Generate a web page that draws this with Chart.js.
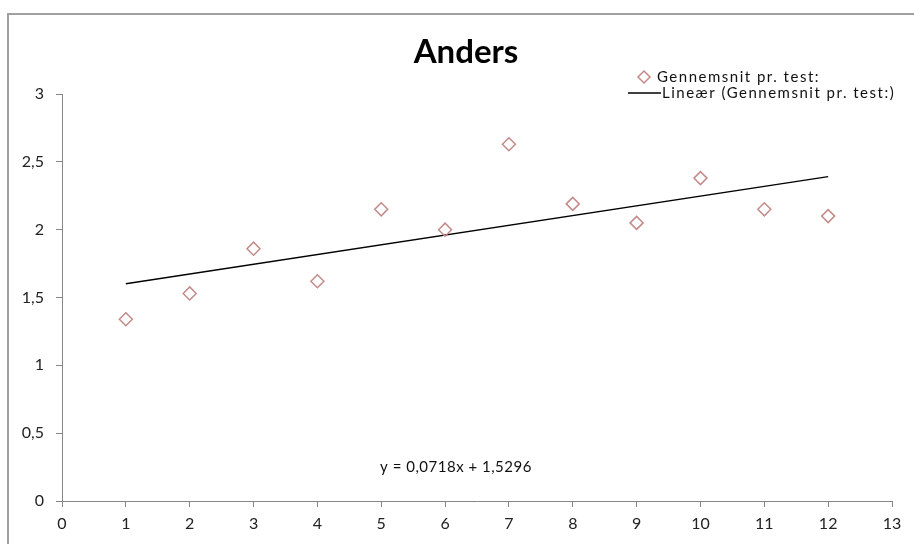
<!DOCTYPE html>
<html>
<head>
<meta charset="utf-8">
<script src="https://cdn.jsdelivr.net/npm/chart.js@4/dist/chart.umd.min.js"></script>
<style>
    html, body { margin: 0; padding: 0; background: #fff; }
    #wrap { width: 914px; height: 544px; position: relative; }
</style>
</head>
<body>
<div id="wrap"><canvas id="andersChart" width="914" height="544"></canvas></div>
<script>
// test number on x, average score on y
const testNo    = [1, 2, 3, 4, 5, 6, 7, 8, 9, 10, 11, 12];
const avgScore  = [1.34, 1.53, 1.86, 1.62, 2.15, 2.0, 2.63, 2.19, 2.05, 2.38, 2.15, 2.1];

// linear trendline, ends at first and last test
const trendX = [1, 12];
const trendY = [1.6014, 2.3912];

const xTicks = [0, 1, 2, 3, 4, 5, 6, 7, 8, 9, 10, 11, 12, 13];
const yTicks = [0, 0.5, 1, 1.5, 2, 2.5, 3];

const titleText    = "Anders";
const seriesLabel  = "Gennemsnit pr. test:";
const trendLabel   = "Lineær (Gennemsnit pr. test:)";
const equationText = "y = 0,0718x + 1,5296";

const markerColor = "#c48a8a";
const axisColor   = "#868686";
const fontFam     = "Lato, 'Open Sans', sans-serif";

/* -------- frame, title, legend, equation -------- */

const decorPlugin = {
    id: "decor",
    beforeDraw(chart) {
        const ctx = chart.ctx;
        ctx.save();
        ctx.fillStyle = "#fff";
        ctx.fillRect(0, 0, chart.width, chart.height);
        ctx.strokeStyle = "#a0a0a0";
        ctx.lineWidth = 2;
        ctx.beginPath();
        ctx.moveTo(8, chart.height);
        ctx.lineTo(8, 14);
        ctx.lineTo(chart.width, 14);
        ctx.stroke();
        ctx.restore();
    },
    afterDraw(chart) {
        const ctx = chart.ctx;
        ctx.save();

        // title
        ctx.fillStyle = "#000";
        ctx.font = "bold 33px " + fontFam;
        ctx.textAlign = "center";
        ctx.textBaseline = "middle";
        ctx.fillText(titleText, 466, 52);

        // legend
        ctx.font = "15px " + fontFam;
        ctx.textAlign = "left";
        ctx.fillStyle = "#111";
        if ("letterSpacing" in ctx) ctx.letterSpacing = "1.5px";

        ctx.strokeStyle = markerColor;
        ctx.lineWidth = 1.5;
        ctx.beginPath();
        ctx.moveTo(644, 71); ctx.lineTo(650, 77); ctx.lineTo(644, 83); ctx.lineTo(638, 77);
        ctx.closePath();
        ctx.stroke();
        ctx.fillText(seriesLabel, 657, 77);

        ctx.strokeStyle = "#000";
        ctx.lineWidth = 1.3;
        ctx.beginPath();
        ctx.moveTo(628, 93); ctx.lineTo(661, 93);
        ctx.stroke();
        ctx.fillText(trendLabel, 662, 93);

        // trendline equation
        ctx.font = "15px " + fontFam;
        if ("letterSpacing" in ctx) ctx.letterSpacing = "0.5px";
        ctx.textAlign = "center";
        ctx.fillText(equationText, 456, 467);

        ctx.restore();
    }
};

const ctx = document.getElementById("andersChart");

new Chart(ctx, {
    type: "scatter",
    data: {
        datasets: [
            {
                label: seriesLabel,
                data: testNo.map((x, i) => ({ x: x, y: avgScore[i] })),
                pointStyle: "rectRot",
                pointRadius: 6.5,
                pointBorderWidth: 1.5,
                pointBorderColor: markerColor,
                pointBackgroundColor: "rgba(0,0,0,0)",
                showLine: false
            },
            {
                label: trendLabel,
                data: trendX.map((x, i) => ({ x: x, y: trendY[i] })),
                showLine: true,
                borderColor: "#000",
                borderWidth: 1.4,
                pointRadius: 0,
                fill: false
            }
        ]
    },
    options: {
        responsive: false,
        animation: false,
        layout: { padding: { top: 94, right: 22, bottom: 0, left: 0 } },
        plugins: {
            legend: { display: false },
            title: { display: false },
            tooltip: { enabled: false }
        },
        scales: {
            x: {
                type: "linear",
                min: xTicks[0],
                max: xTicks[xTicks.length - 1],
                afterBuildTicks: s => { s.ticks = xTicks.map(v => ({ value: v })); },
                afterFit: s => { s.height = 43; },
                grid: { drawOnChartArea: false, drawTicks: true, tickLength: 6, color: axisColor },
                border: { color: axisColor, width: 1 },
                ticks: {
                    color: "#222",
                    padding: 7,
                    font: { family: fontFam, size: 16 },
                    callback: v => String(v)
                }
            },
            y: {
                min: yTicks[0],
                max: yTicks[yTicks.length - 1],
                afterBuildTicks: s => { s.ticks = yTicks.map(v => ({ value: v })); },
                afterFit: s => { s.width = 62; },
                grid: { drawOnChartArea: false, drawTicks: true, tickLength: 6, color: axisColor },
                border: { color: axisColor, width: 1 },
                ticks: {
                    color: "#222",
                    padding: 12,
                    font: { family: fontFam, size: 16 },
                    callback: v => String(v).replace(".", ",")
                }
            }
        }
    },
    plugins: [decorPlugin]
});
</script>
</body>
</html>
